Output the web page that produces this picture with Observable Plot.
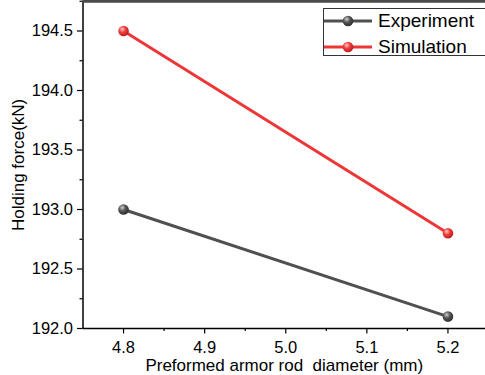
<!DOCTYPE html>
<html>
<head>
<meta charset="utf-8">
<script src="https://cdn.jsdelivr.net/npm/d3@7"></script>
<script src="https://cdn.jsdelivr.net/npm/@observablehq/plot@0.6"></script>
<style>
  html, body { margin: 0; padding: 0; background: #fff; }
  #wrap { position: relative; width: 485px; height: 375px; overflow: hidden; font-family: "Liberation Sans", Arial, sans-serif; }
  #wrap > svg text { font-size: 16.5px; font-family: "Liberation Sans", Arial, sans-serif; fill: #000; }
  #wrap > svg g[aria-label$="axis label"] text { font-size: 17px; }
  #legend { position: absolute; left: 323px; top: 8px; width: 170px; height: 48px; border: 1px solid #333; background: #fff; box-sizing: border-box; }
  .row { position: absolute; left: 0; height: 24px; display: flex; align-items: center; font-size: 19px; color: #000; }
  .row svg { display: block; margin-right: 6px; }
</style>
</head>
<body>
<div id="wrap"></div>
<script>
// Preformed armor rod diameter (mm)
const diameters = [4.8, 5.2];
// Holding force (kN)
const experiment = [193.0, 192.1];
const simulation = [194.5, 192.8];
const seriesNames = ["Experiment", "Simulation"];
const seriesColors = ["#505050", "#ee3636"];
const xTicks = [4.8, 4.9, 5.0, 5.1, 5.2];
const xMinor = [4.85, 4.95, 5.05, 5.15, 5.25];
const yTicks = [192.0, 192.5, 193.0, 193.5, 194.0, 194.5];
const yMinor = [192.25, 192.75, 193.25, 193.75, 194.25, 194.75];

const rows = [
  ...diameters.map((d, i) => ({series: seriesNames[0], d, f: experiment[i]})),
  ...diameters.map((d, i) => ({series: seriesNames[1], d, f: simulation[i]}))
];
const grad = {Experiment: "url(#ballGray)", Simulation: "url(#ballRed)"};
const blank = () => "";

const chart = Plot.plot({
  width: 485,
  height: 375,
  marginLeft: 82.5,
  marginRight: 0,
  marginTop: 0.75,
  marginBottom: 47,
  style: {fontFamily: "'Liberation Sans', Arial, sans-serif", fontSize: "16.5px", color: "#000", background: "#fff"},
  x: {domain: [4.75, 5.25], range: [82.5, 488]},
  y: {domain: [192, 194.75]},
  color: {domain: seriesNames, range: seriesColors},
  marks: [
    Plot.axisX(xMinor, {tickSize: 3, tickFormat: blank, label: null, stroke: "#000", strokeWidth: 1.2}),
    Plot.axisX(xTicks, {tickSize: 5.5, tickPadding: 7.5, tickFormat: d3.format(".1f"), stroke: "#000", strokeWidth: 1.2,
      label: "Preformed armor rod  diameter (mm)", labelAnchor: "center", labelArrow: "none", labelOffset: 42}),
    Plot.axisY(yMinor, {tickSize: 3, tickFormat: blank, label: null, stroke: "#000", strokeWidth: 1.2}),
    Plot.axisY(yTicks, {tickSize: 5.5, tickPadding: 4.5, tickFormat: d3.format(".1f"), stroke: "#000", strokeWidth: 1.2,
      label: "Holding force(kN)", labelAnchor: "center", labelArrow: "none", labelOffset: 71}),
    Plot.ruleX([4.75], {stroke: "#000", strokeWidth: 1.5}),
    Plot.ruleY([192], {stroke: "#000", strokeWidth: 1.5}),
    Plot.ruleY([194.75], {stroke: "#4a4a4a", strokeWidth: 3}),
    Plot.line(rows, {x: "d", y: "f", z: "series", stroke: "series", strokeWidth: 3}),
    Plot.dot(rows, {x: "d", y: "f", r: 5.3, fill: d => grad[d.series], stroke: "none"})
  ]
});

// Shaded ball gradients for the markers
const svg = d3.select(chart);
const defs = svg.insert("defs", ":first-child");
function ball(id, light, mid, dark) {
  const g = defs.append("radialGradient").attr("id", id)
    .attr("cx", "0.38").attr("cy", "0.35").attr("r", "0.7").attr("fx", "0.38").attr("fy", "0.32");
  g.append("stop").attr("offset", "0").attr("stop-color", light);
  g.append("stop").attr("offset", "0.45").attr("stop-color", mid);
  g.append("stop").attr("offset", "1").attr("stop-color", dark);
}
ball("ballGray", "#d0d0d0", "#555555", "#2a2a2a");
ball("ballRed", "#ffc8c8", "#f03c3c", "#b81818");

const wrap = document.getElementById("wrap");
wrap.appendChild(chart);

// Legend
const legend = document.createElement("div");
legend.id = "legend";
seriesNames.forEach((name, i) => {
  const row = document.createElement("div");
  row.className = "row";
  row.style.top = (i * 25.5) + "px";
  const sw = d3.create("svg").attr("width", 48).attr("height", 14);
  sw.append("line").attr("x1", 0).attr("x2", 48).attr("y1", 7).attr("y2", 7)
    .attr("stroke", seriesColors[i]).attr("stroke-width", 3);
  sw.append("circle").attr("cx", 24).attr("cy", 7).attr("r", 5.3)
    .attr("fill", i === 0 ? "url(#ballGray)" : "url(#ballRed)");
  row.appendChild(sw.node());
  const t = document.createElement("span");
  t.textContent = name;
  row.appendChild(t);
  legend.appendChild(row);
});
wrap.appendChild(legend);
</script>
</body>
</html>
